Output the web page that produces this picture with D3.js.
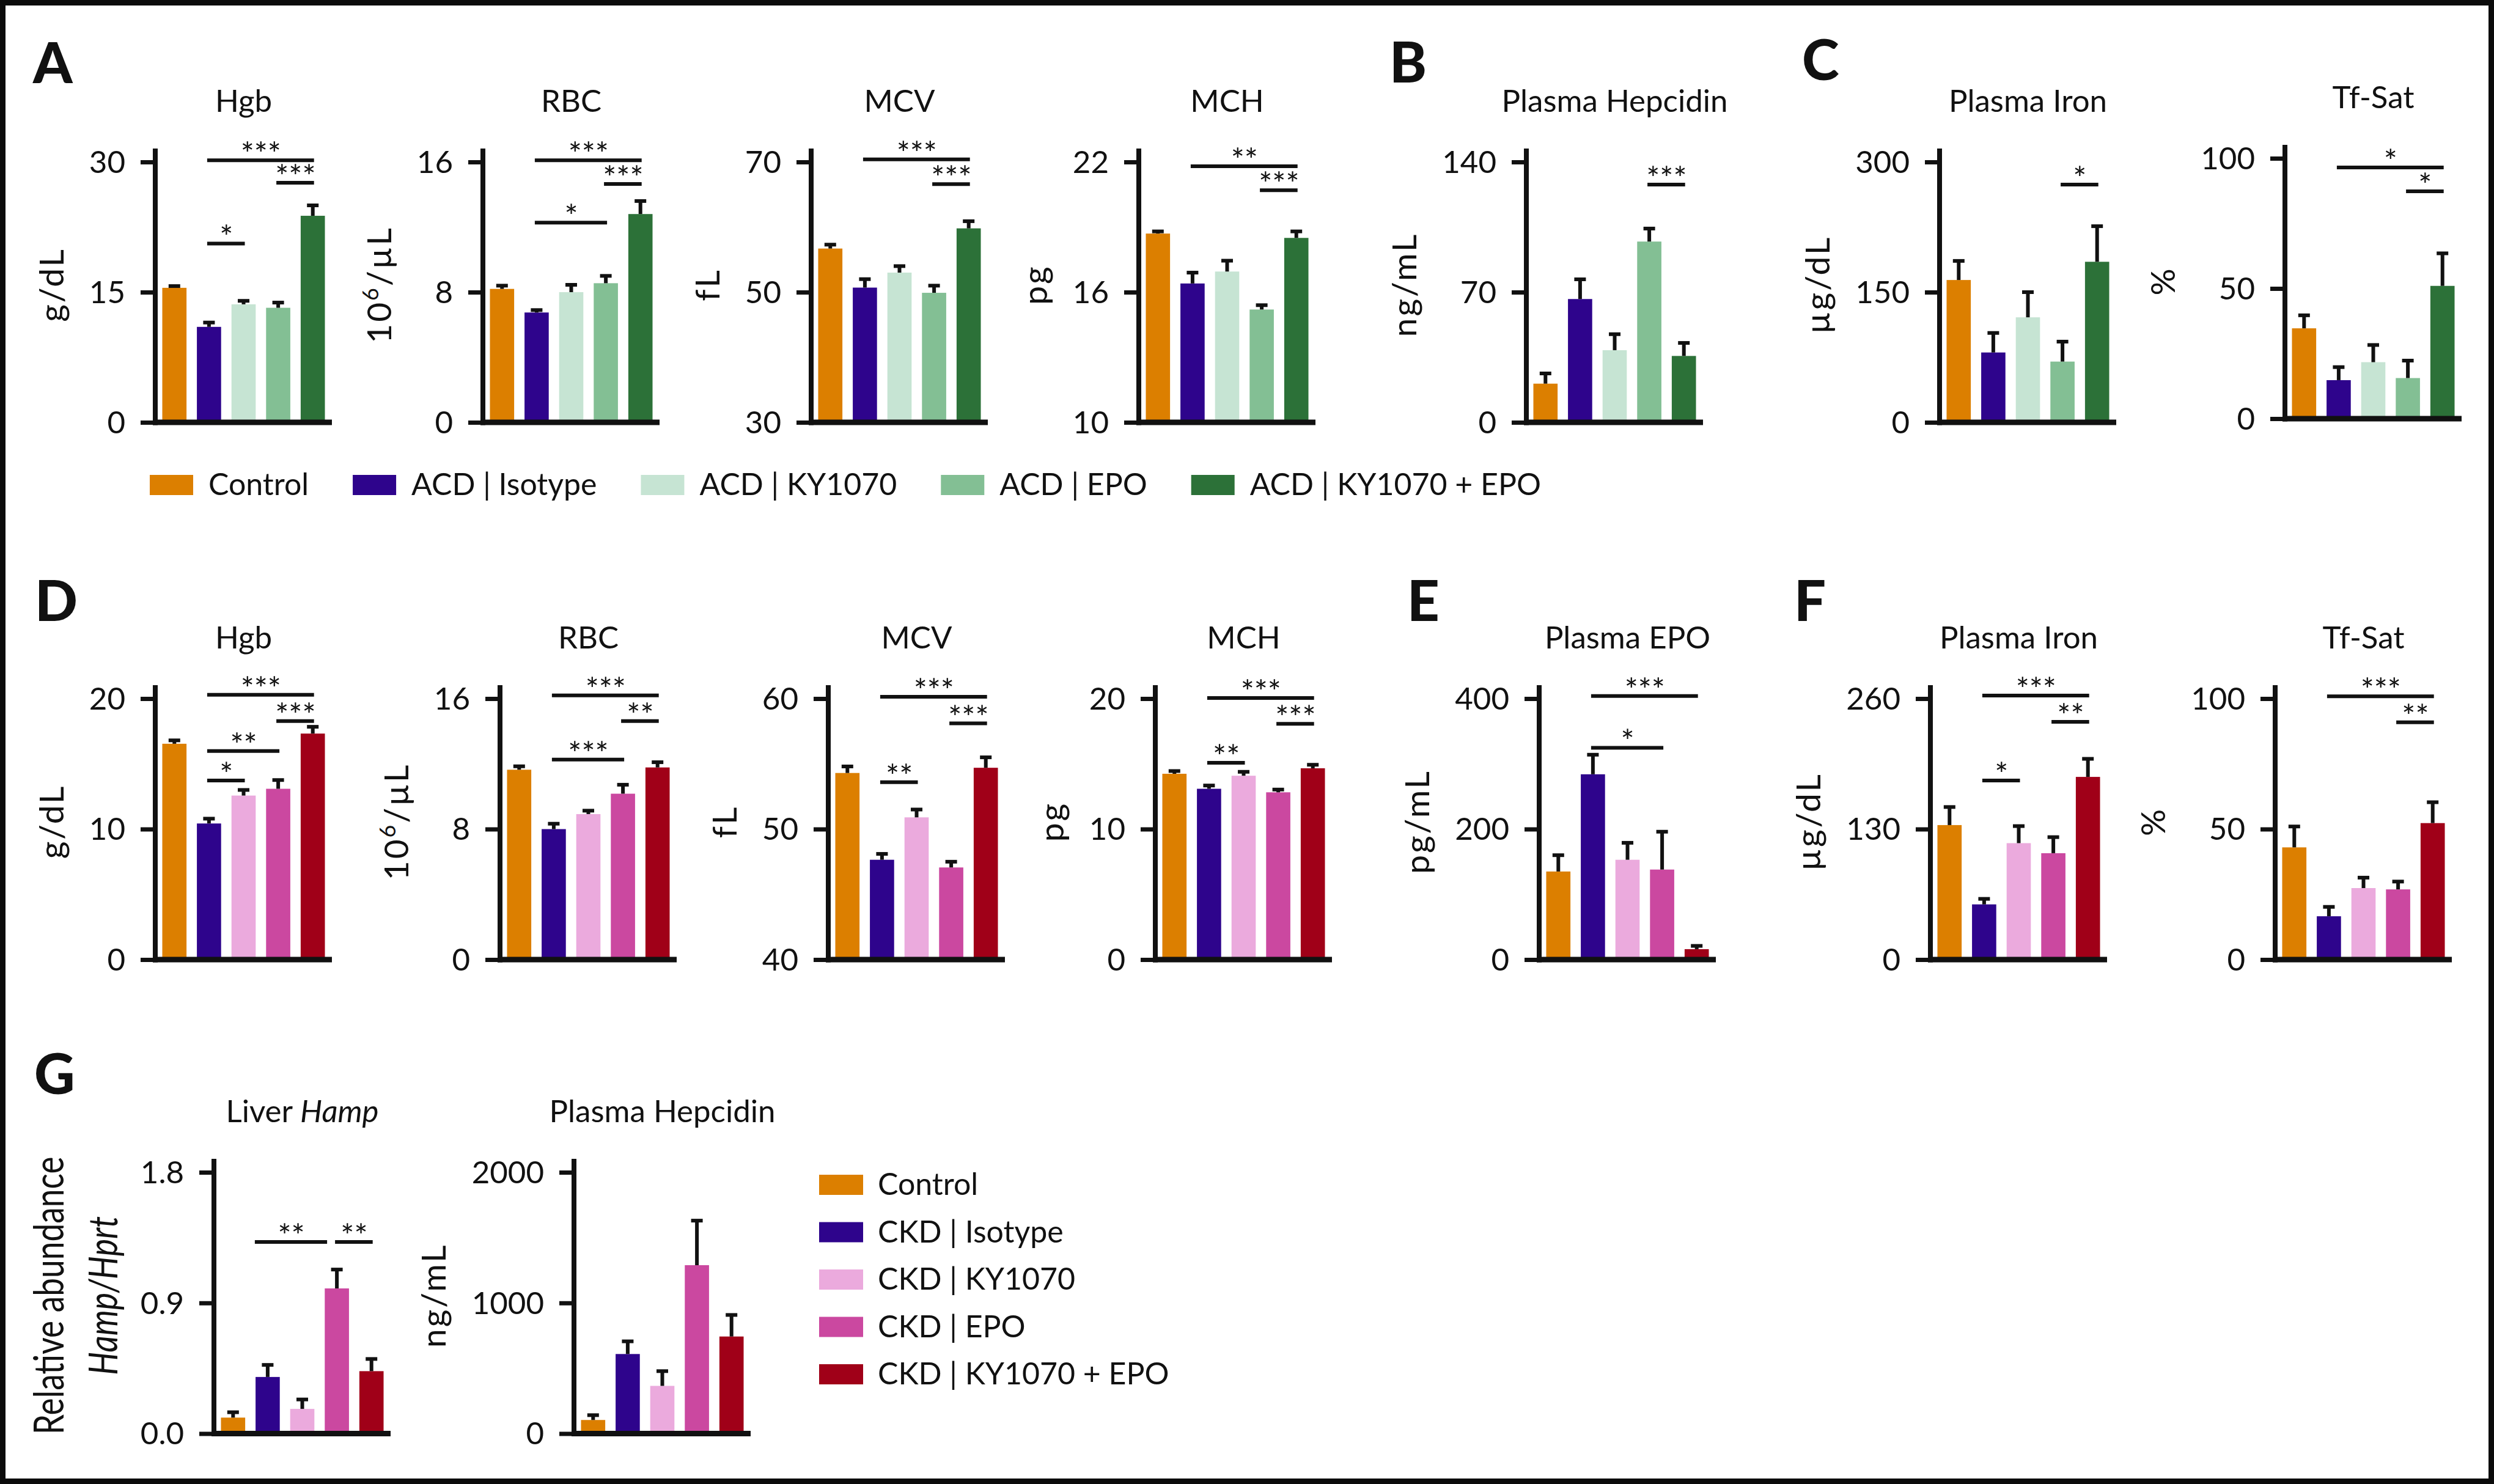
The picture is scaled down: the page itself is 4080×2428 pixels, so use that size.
<!DOCTYPE html>
<html><head><meta charset="utf-8">
<script src="https://cdn.jsdelivr.net/npm/d3@7"></script>
<style>
body{margin:0;background:#fff}
svg{display:block}
text{font-family:Lato,"Open Sans","Noto Sans",sans-serif;fill:#111}
</style>
</head><body>
<svg id="c" width="4080" height="2428"></svg>
<script>
// ---------- groups & colours ----------
const groupsACD = ["Control","ACD | Isotype","ACD | KY1070","ACD | EPO","ACD | KY1070 + EPO"];
const groupsCKD = ["Control","CKD | Isotype","CKD | KY1070","CKD | EPO","CKD | KY1070 + EPO"];
const colorsACD = ["#DC7F00","#2E048C","#C6E4D3","#83BF94","#2C7138"];
const colorsCKD = ["#DC7F00","#2E048C","#EBAADD","#CB48A0","#A00018"];

// ---------- Panel A (ACD) ----------
const aHgbMean = [15.5, 11.0, 13.6, 13.2, 23.8];
const aHgbErr  = [15.7, 11.5, 14.0, 13.8, 25.0];
const aHgbTicks = [0, 15, 30];
const aHgbSig = [[1,4,30.2,"***"],[3,4,27.6,"***"],[1,2,20.6,"*"]];

const aRbcMean = [8.2, 6.75, 8.0, 8.55, 12.8];
const aRbcErr  = [8.4, 6.9, 8.45, 9.0, 13.6];
const aRbcTicks = [0, 8, 16];
const aRbcSig = [[1,4,16.1,"***"],[3,4,14.65,"***"],[1,3,12.27,"*"]];

const aMcvMean = [56.7, 50.7, 53.0, 49.9, 59.8];
const aMcvErr  = [57.3, 52.0, 54.0, 51.0, 60.9];
const aMcvTicks = [30, 50, 70];
const aMcvSig = [[1,4,70.4,"***"],[3,4,66.6,"***"]];

const aMchMean = [18.7, 16.4, 16.95, 15.2, 18.5];
const aMchErr  = [18.8, 16.9, 17.45, 15.4, 18.8];
const aMchTicks = [10, 16, 22];
const aMchSig = [[1,4,21.8,"**"],[3,4,20.7,"***"]];

// ---------- Panel B ----------
const bHepMean = [20.8, 66.3, 38.8, 97.2, 35.7];
const bHepErr  = [26.3, 76.9, 47.4, 104.2, 42.7];
const bHepTicks = [0, 70, 140];
const bHepSig = [[3,4,127.8,"***"]];

// ---------- Panel C ----------
const cIronMean = [164, 80.5, 121, 70, 185];
const cIronErr  = [186, 103, 150, 93, 226];
const cIronTicks = [0, 150, 300];
const cIronSig = [[3,4,274,"*"]];

const cTfMean = [34.7, 14.8, 21.7, 15.6, 51.0];
const cTfErr  = [39.7, 19.8, 28.3, 22.3, 63.5];
const cTfTicks = [0, 50, 100];
const cTfSig = [[1,4,96.5,"*"],[3,4,87.3,"*"]];

// ---------- Panel D (CKD) ----------
const dHgbMean = [16.54, 10.43, 12.57, 13.09, 17.32];
const dHgbErr  = [16.8, 10.8, 13.0, 13.76, 17.84];
const dHgbTicks = [0, 10, 20];
const dHgbSig = [[1,4,20.29,"***"],[3,4,18.28,"***"],[1,3,15.98,"**"],[1,2,13.72,"*"]];

const dRbcMean = [11.64, 8.0, 8.92, 10.17, 11.78];
const dRbcErr  = [11.85, 8.33, 9.13, 10.72, 12.1];
const dRbcTicks = [0, 8, 16];
const dRbcSig = [[1,4,16.2,"***"],[3,4,14.62,"**"],[1,3,12.26,"***"]];

const dMcvMean = [54.3, 47.65, 50.9, 47.06, 54.7];
const dMcvErr  = [54.8, 48.1, 51.5, 47.5, 55.5];
const dMcvTicks = [40, 50, 60];
const dMcvSig = [[1,4,60.14,"***"],[3,4,58.1,"***"],[1,2,53.6,"**"]];

const dMchMean = [14.24, 13.09, 14.09, 12.82, 14.66];
const dMchErr  = [14.45, 13.34, 14.39, 13.03, 14.93];
const dMchTicks = [0, 10, 20];
const dMchSig = [[1,4,20.05,"***"],[3,4,18.07,"***"],[1,2,15.08,"**"]];

// ---------- Panel E ----------
const eEpoMean = [135, 284, 153, 138, 16];
const eEpoErr  = [160, 314, 179, 196, 21];
const eEpoTicks = [0, 200, 400];
const eEpoSig = [[1,4,404,"***"],[1,3,324.6,"*"]];

// ---------- Panel F ----------
const fIronMean = [134, 55, 116, 106, 182];
const fIronErr  = [152, 60.5, 133, 122, 200];
const fIronTicks = [0, 130, 260];
const fIronSig = [[1,4,263,"***"],[3,4,236.8,"**"],[1,2,178.4,"*"]];

const fTfMean = [43, 16.6, 27.4, 26.9, 52.3];
const fTfErr  = [51, 20.2, 31.4, 29.9, 60.3];
const fTfTicks = [0, 50, 100];
const fTfSig = [[1,4,100.9,"***"],[3,4,90.9,"**"]];

// ---------- Panel G ----------
const gHampMean = [0.11, 0.39, 0.17, 1.0, 0.43];
const gHampErr  = [0.147, 0.473, 0.235, 1.13, 0.514];
const gHampTicks = [0, 0.9, 1.8];
const gHampSig = [[1,3,1.32,"**"],[3,4,1.32,"**"]];

const gHepMean = [104, 609, 365, 1289, 743];
const gHepErr  = [141, 706, 478, 1630, 908];
const gHepTicks = [0, 1000, 2000];
const gHepSig = [];

// ---------- layout (positions only) ----------
const rows = {
  r1:  {zero: 691,   top: 265},
  r1b: {zero: 685,   top: 259},
  r2:  {zero: 1570,  top: 1143},
  r3:  {zero: 2345.5,top: 1918}
};
const fmtInt = d3.format("d"), fmt1 = d3.format(".1f");
const panels = [
  {title:"Hgb", unit:"g/dL", mean:aHgbMean, err:aHgbErr, ticks:aHgbTicks, sig:aHgbSig, set:"ACD", ax:254, row:"r1"},
  {title:"RBC", unit:"10^6/µL", mean:aRbcMean, err:aRbcErr, ticks:aRbcTicks, sig:aRbcSig, set:"ACD", ax:790, row:"r1"},
  {title:"MCV", unit:"fL", mean:aMcvMean, err:aMcvErr, ticks:aMcvTicks, sig:aMcvSig, set:"ACD", ax:1327, row:"r1"},
  {title:"MCH", unit:"pg", mean:aMchMean, err:aMchErr, ticks:aMchTicks, sig:aMchSig, set:"ACD", ax:1863, row:"r1"},
  {title:"Plasma Hepcidin", unit:"ng/mL", mean:bHepMean, err:bHepErr, ticks:bHepTicks, sig:bHepSig, set:"ACD", ax:2497, row:"r1"},
  {title:"Plasma Iron", unit:"µg/dL", mean:cIronMean, err:cIronErr, ticks:cIronTicks, sig:cIronSig, set:"ACD", ax:3173, row:"r1"},
  {title:"Tf-Sat", unit:"%", mean:cTfMean, err:cTfErr, ticks:cTfTicks, sig:cTfSig, set:"ACD", ax:3738, row:"r1b"},
  {title:"Hgb", unit:"g/dL", mean:dHgbMean, err:dHgbErr, ticks:dHgbTicks, sig:dHgbSig, set:"CKD", ax:254, row:"r2"},
  {title:"RBC", unit:"10^6/µL", mean:dRbcMean, err:dRbcErr, ticks:dRbcTicks, sig:dRbcSig, set:"CKD", ax:818, row:"r2"},
  {title:"MCV", unit:"fL", mean:dMcvMean, err:dMcvErr, ticks:dMcvTicks, sig:dMcvSig, set:"CKD", ax:1355, row:"r2"},
  {title:"MCH", unit:"pg", mean:dMchMean, err:dMchErr, ticks:dMchTicks, sig:dMchSig, set:"CKD", ax:1890, row:"r2"},
  {title:"Plasma EPO", unit:"pg/mL", mean:eEpoMean, err:eEpoErr, ticks:eEpoTicks, sig:eEpoSig, set:"CKD", ax:2518, row:"r2"},
  {title:"Plasma Iron", unit:"µg/dL", mean:fIronMean, err:fIronErr, ticks:fIronTicks, sig:fIronSig, set:"CKD", ax:3158, row:"r2"},
  {title:"Tf-Sat", unit:"%", mean:fTfMean, err:fTfErr, ticks:fTfTicks, sig:fTfSig, set:"CKD", ax:3722, row:"r2"},
  {title:"Liver |Hamp", unit:"HAMP", mean:gHampMean, err:gHampErr, ticks:gHampTicks, sig:gHampSig, set:"CKD", ax:350, row:"r3", fmt:fmt1},
  {title:"Plasma Hepcidin", unit:"ng/mL", mean:gHepMean, err:gHepErr, ticks:gHepTicks, sig:gHepSig, set:"CKD", ax:939, row:"r3"}
];
const letters = [["A",54,136],["B",2273,135],["C",2948,131],["D",57,1016],["E",2302,1016],["F",2935,1016],["G",56,1790]];

const INK = "#111";
const svg = d3.select("#c");
svg.append("rect").attr("width",4080).attr("height",2428).attr("fill","#fff");
svg.append("rect").attr("x",4.5).attr("y",4.5).attr("width",4071).attr("height",2419)
  .attr("fill","none").attr("stroke","#0b0b0b").attr("stroke-width",9);

const AXW = 289;
panels.forEach(p => {
  const r = rows[p.row];
  const names = p.set === "ACD" ? groupsACD : groupsCKD;
  const cols  = p.set === "ACD" ? colorsACD : colorsCKD;
  const y = d3.scaleLinear().domain([p.ticks[0], p.ticks[p.ticks.length-1]]).range([r.zero, r.top]);
  const x = d3.scaleBand().domain(names).range([p.ax + 3, p.ax + 3 + 283]).paddingInner(0.3).paddingOuter(0.15);
  const bw = x.bandwidth();
  const g = svg.append("g");

  // bars
  g.selectAll("rect.bar").data(p.mean).join("rect").attr("class","bar")
    .attr("x",(d,i)=>x(names[i])).attr("width",bw)
    .attr("y",d=>y(d)).attr("height",d=>r.zero - y(d))
    .attr("fill",(d,i)=>cols[i]);

  // error bars (upper)
  const eb = g.selectAll("g.eb").data(p.err).join("g").attr("class","eb");
  eb.append("line").attr("x1",(d,i)=>x(names[i])+bw/2).attr("x2",(d,i)=>x(names[i])+bw/2)
    .attr("y1",(d,i)=>y(p.mean[i])).attr("y2",d=>y(d)).attr("stroke",INK).attr("stroke-width",6);
  eb.append("line").attr("x1",(d,i)=>x(names[i])+bw/2-9.5).attr("x2",(d,i)=>x(names[i])+bw/2+9.5)
    .attr("y1",d=>y(d)).attr("y2",d=>y(d)).attr("stroke",INK).attr("stroke-width",6);

  // axes
  const axis = d3.axisLeft(y).tickValues(p.ticks).tickSize(24).tickPadding(25).tickFormat(p.fmt || fmtInt);
  const ag = g.append("g").attr("transform",`translate(${p.ax},0)`).call(axis)
    .attr("font-family",null).attr("font-size",51);
  ag.select(".domain").remove();
  ag.selectAll(".tick line").attr("stroke",INK).attr("stroke-width",7);
  ag.selectAll(".tick text").attr("fill",INK).attr("dy","0.34em");
  g.append("line").attr("x1",p.ax).attr("x2",p.ax).attr("y1",r.zero+4.5).attr("y2",r.top-22)
    .attr("stroke",INK).attr("stroke-width",8);
  g.append("line").attr("x1",p.ax-4).attr("x2",p.ax+AXW).attr("y1",r.zero).attr("y2",r.zero)
    .attr("stroke",INK).attr("stroke-width",9);

  let maxW = 0;
  ag.selectAll(".tick text").each(function(){ maxW = Math.max(maxW, this.getComputedTextLength()); });

  // title
  const t = g.append("text").attr("x",p.ax + AXW/2).attr("y",r.top - 82)
    .attr("text-anchor","middle").attr("font-size",51);
  const parts = p.title.split("|");
  t.append("tspan").text(parts[0]);
  if (parts[1]) t.append("tspan").attr("font-style","italic").text(parts[1]);

  // y label
  const cx = p.ax - 49 - maxW - 62, cy = (r.zero + r.top)/2 - 12;
  if (p.unit === "HAMP") {
    svg.append("text").attr("transform",`translate(${cx},${cy}) rotate(-90)`)
      .attr("text-anchor","middle").attr("dy","0.36em").attr("font-size",66).attr("font-style","italic")
      .attr("textLength",260).attr("lengthAdjust","spacingAndGlyphs").text("Hamp/Hprt");
    svg.append("text").attr("transform",`translate(${cx-88},${cy}) rotate(-90)`)
      .attr("text-anchor","middle").attr("dy","0.36em").attr("font-size",68)
      .attr("textLength",455).attr("lengthAdjust","spacingAndGlyphs").text("Relative abundance");
  } else {
    const yl = svg.append("text").attr("transform",`translate(${cx},${cy}) rotate(-90)`)
      .attr("text-anchor","middle").attr("dy","0.36em").attr("font-size",55).attr("letter-spacing",3);
    if (p.unit.indexOf("^") >= 0) {
      const [a, rest] = p.unit.split("^");
      yl.append("tspan").text(a);
      yl.append("tspan").attr("font-size",36).attr("dy",-21).text(rest[0]);
      yl.append("tspan").attr("dy",21).text(rest.slice(1));
    } else yl.text(p.unit);
  }

  // significance brackets
  p.sig.forEach(s => {
    let x1 = x(names[s[0]]) + bw/2, x2 = x(names[s[1]]) + bw/2;
    const shared = p.sig.some(o => o !== s && o[2] === s[2] && o[0] === s[1]);
    if (shared) { x1 -= 18; x2 -= 18; }
    g.append("line").attr("x1",x1-3).attr("x2",x2+2).attr("y1",y(s[2])).attr("y2",y(s[2]))
      .attr("stroke",INK).attr("stroke-width",6);
    g.append("text").attr("x",(x1+x2)/2).attr("y",y(s[2]) + 9).attr("text-anchor","middle")
      .attr("font-size",52).text(s[3]);
  });
});

// panel letters
letters.forEach(l => {
  svg.append("text").attr("x",l[1]).attr("y",l[2]).attr("font-size",92).attr("font-weight",900).text(l[0]);
});

// legend 1 (ACD), horizontal
let lx = 245;
groupsACD.forEach((n,i) => {
  svg.append("rect").attr("x",lx).attr("y",777).attr("width",71).attr("height",33).attr("fill",colorsACD[i]);
  const tt = svg.append("text").attr("x",lx+96).attr("y",810).attr("font-size",50).text(n);
  lx = lx + 96 + tt.node().getComputedTextLength() + 72;
});

// legend 2 (CKD), vertical
groupsCKD.forEach((n,i) => {
  const top = 1922 + i*77.5;
  svg.append("rect").attr("x",1340).attr("y",top).attr("width",72).attr("height",33).attr("fill",colorsCKD[i]);
  svg.append("text").attr("x",1436).attr("y",top+33).attr("font-size",50).text(n);
});
</script>
</body></html>
